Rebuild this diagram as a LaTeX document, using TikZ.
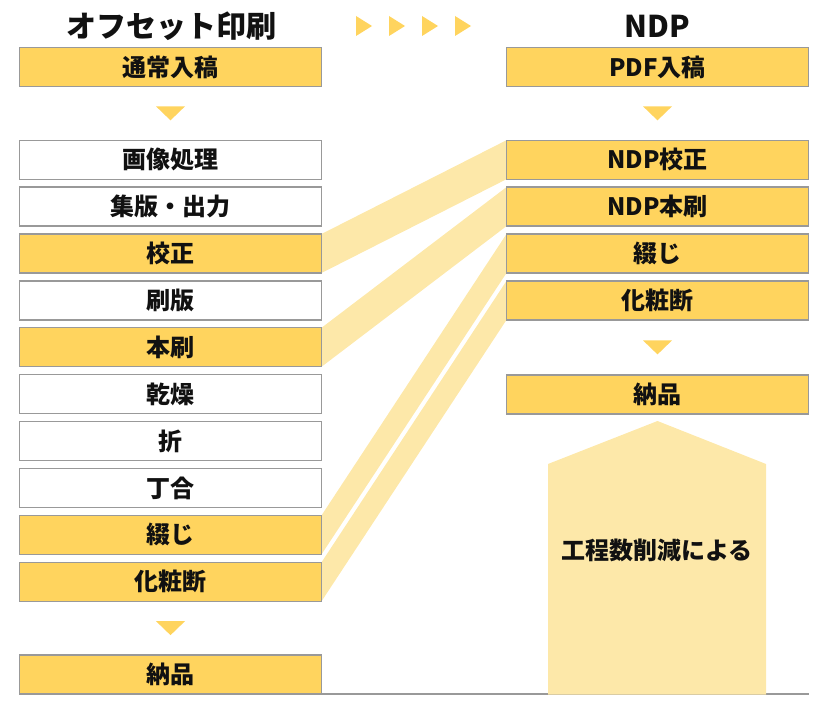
\documentclass[tikz,border=0pt]{standalone}
\usepackage{fontspec}
\setmainfont{Noto Sans CJK JP}
\usetikzlibrary{positioning, backgrounds, calc}
\definecolor{ndpyellow}{HTML}{FFD45E}
\definecolor{ndplight}{HTML}{FDE8A9}
\definecolor{ndpgray}{HTML}{999999}
\definecolor{ndpdark}{HTML}{111111}
\tikzset{
  stepbox/.style={rectangle, draw=ndpgray, line width=1.2pt, minimum width=302pt, minimum height=39pt,
    inner sep=0pt, outer sep=0pt, fill=white, text=ndpdark, font=\bfseries\fontsize{24}{24}\selectfont},
  hotbox/.style={stepbox, fill=ndpyellow},
  head/.style={text=ndpdark, font=\bfseries\fontsize{30}{30}\selectfont},
  band/.style={fill=ndplight},
  tri/.style={fill=ndpyellow},
}
\newcommand{\downtri}[1]{\fill[tri] ($(#1)+(-14.5,7)$) -- ($(#1)+(14.5,7)$) -- ($(#1)+(0,-7)$) -- cycle;}

\begin{document}
\begin{tikzpicture}[x=1pt, y=1pt]
    \useasboundingbox (0,0) rectangle (829,-711);
    \node[head] (otitle) at (171.5,-26) {オフセット印刷};
    \node[head] (ntitle) at (657.5,-26) {NDP};
    \foreach \i in {0,...,3}
      \fill[tri] (356+33*\i,-16) -- ++(16,-10) -- ++(-16,-10) -- cycle;

    % offset column
    \node[hotbox] (oin) at (170.5,-67) {通常入稿};
    \node[stepbox, below=53.7pt of oin] (oimg) {画像処理};
    \node[stepbox, below=7.9pt of oimg] (oset) {集版・出力};
    \node[hotbox, below=7.9pt of oset] (oproof) {校正};
    \node[stepbox, below=7.9pt of oproof] (oplate) {刷版};
    \node[hotbox, below=7.9pt of oplate] (oprint) {本刷};
    \node[stepbox, below=7.9pt of oprint] (odry) {乾燥};
    \node[stepbox, below=7.9pt of odry] (ofold) {折};
    \node[stepbox, below=7.9pt of ofold] (ocoll) {丁合};
    \node[hotbox, below=7.9pt of ocoll] (obind) {綴じ};
    \node[hotbox, below=7.9pt of obind] (ocut) {化粧断};
    \node[hotbox, below=53.7pt of ocut] (odel) {納品};

    % NDP column
    \node[hotbox] (nin) at (657.5,-67) {PDF入稿};
    \node[hotbox, below=53.7pt of nin] (nproof) {NDP校正};
    \node[hotbox, below=7.9pt of nproof] (nprint) {NDP本刷};
    \node[hotbox, below=7.9pt of nprint] (nbind) {綴じ};
    \node[hotbox, below=7.9pt of nbind] (ncut) {化粧断};
    \node[hotbox, below=55pt of ncut] (ndel) {納品};

    \coordinate (otri1) at ($(oin.south)!0.5!(oimg.north)$);
    \coordinate (otri2) at ($(ocut.south)!0.5!(odel.north)$);
    \coordinate (ntri1) at ($(nin.south)!0.5!(nproof.north)$);
    \coordinate (ntri2) at ($(ncut.south)!0.5!(ndel.north)$);
    \downtri{otri1}
    \downtri{otri2}
    \downtri{ntri1}
    \downtri{ntri2}

    \begin{scope}[on background layer]
      \fill[band] (oproof.north east) -- (nproof.north west) -- (nproof.south west) -- (oproof.south east) -- cycle;
      \fill[band] (oprint.north east) -- (nprint.north west) -- (nprint.south west) -- (oprint.south east) -- cycle;
      \fill[band] (obind.north east) -- (nbind.north west) -- (nbind.south west) -- (obind.south east) -- cycle;
      \fill[band] (ocut.north east) -- (ncut.north west) -- (ncut.south west) -- (ocut.south east) -- cycle;
    \end{scope}

    \draw[ndpgray, line width=1.2pt] (odel.south east) -- (odel.south east -| ndel.east);
    \fill[band] (548,-694.7) -- (548,-464) -- (657.5,-421) -- (766,-464) -- (766,-694.7) -- cycle;
    \node[text=ndpdark, font=\bfseries\fontsize{24}{24}\selectfont] (less) at (657,-550) {工程数削減による};
  \end{tikzpicture}
\end{document}
